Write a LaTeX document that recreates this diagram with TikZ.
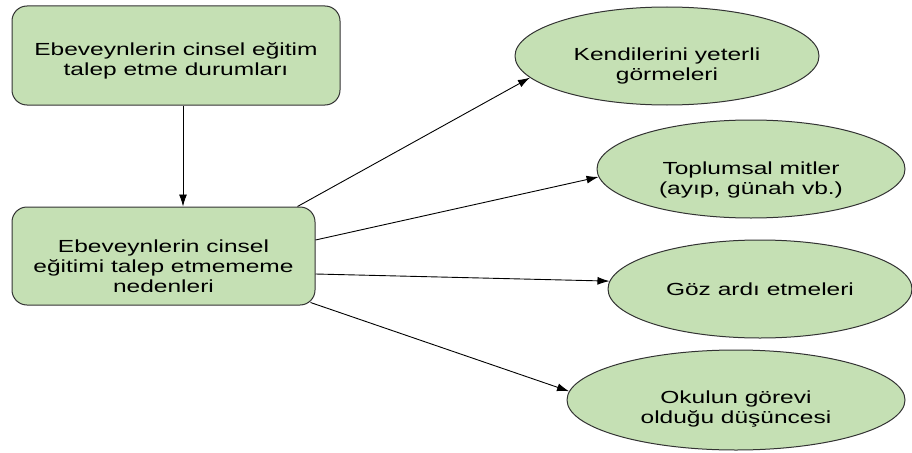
\documentclass[tikz,border=0pt]{standalone}
\usepackage{fontspec}
\setmainfont{Liberation Sans}[FakeStretch=1.4]
\usetikzlibrary{positioning,shapes.geometric,arrows.meta}
\definecolor{yesil}{RGB}{197,224,180}
\begin{document}
\begin{tikzpicture}[x=1pt, y=-1pt, node distance=200.5pt, >={Latex[length=12pt,width=8pt]},
kutu/.style={draw=black!80, fill=yesil, line width=1pt, rounded corners=15pt, align=center, font=\fontsize{17.5}{20}\selectfont},
neden/.style={ellipse, draw=black!80, fill=yesil, line width=1pt, inner sep=0pt, align=center, font=\fontsize{17.5}{20}\selectfont}]
    \useasboundingbox (0,0) rectangle (912,452);
    % Nodes
    \node (Talep) at (176,55.5) [kutu, minimum width=328pt, minimum height=99pt, text height=43pt] {Ebeveynlerin cinsel eğitim\\talep etme durumları};
    \node (Neden) [below of=Talep, xshift=-12.5pt, kutu, minimum width=303pt, minimum height=98pt, text height=74pt] {Ebeveynlerin cinsel\\eğitimi talep etmememe\\nedenleri};
    \node (Yeterli) at (667,56) [neden, minimum width=304pt, minimum height=98pt, text height=52pt] {Kendilerini yeterli\\görmeleri};
    \node (Mit) at (751,169) [neden, minimum width=308pt, minimum height=98pt, text height=54pt] {Toplumsal mitler\\(ayıp, günah vb.)};
    \node (Goz) at (760,289) [neden, minimum width=304pt, minimum height=98pt] {Göz ardı etmeleri};
    \node (Okul) at (736,400) [neden, minimum width=338pt, minimum height=100pt, text height=50pt] {Okulun görevi\\olduğu düşüncesi};

    % Arrows
    \draw[->, line width=0.9pt] ([xshift=7pt]Talep.south) -- node{} ([xshift=19.5pt]Neden.north);
    \draw[->, line width=0.9pt] ([xshift=-18pt]Neden.north east) -- node{} (Yeterli.189);
    \draw[->, line width=0.9pt] ([yshift=16pt]Neden.east) -- node{} (Mit.183);
    \draw[->, line width=0.9pt] ([yshift=-18pt]Neden.east) -- node{} (Goz.177);
    \draw[->, line width=0.9pt] ([xshift=-5pt, yshift=3pt]Neden.south east) -- node{} (Okul.177);
\end{tikzpicture}
\end{document}
